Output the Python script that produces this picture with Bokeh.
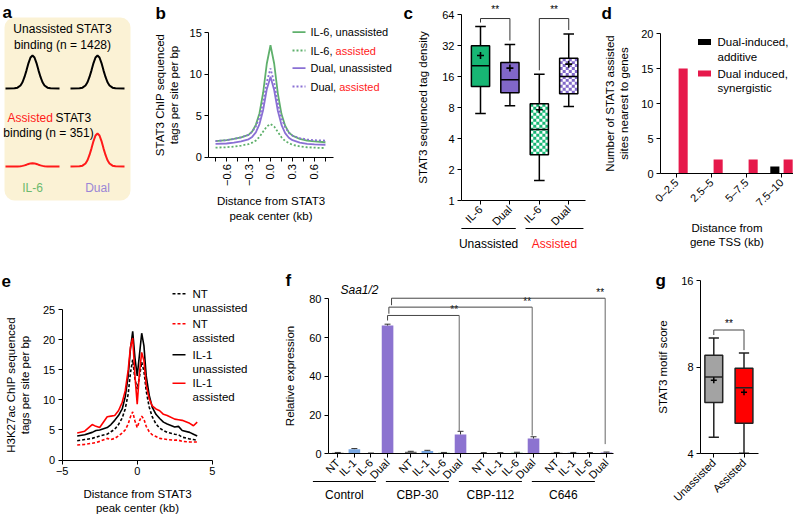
import math
from bokeh.plotting import figure
from bokeh.models import Range1d, FixedTicker, Label, Arrow, BoxAnnotation
from bokeh.layouts import row, column
from bokeh.embed import file_html
from bokeh.resources import INLINE

FONT = "Liberation Sans"
RED = "#FF1A1A"

# ------------------------------------------------------------------ data
# a (schematic)
a_conditions = ["IL-6", "Dual"]
a_unassisted_height = [1.0, 1.0]
a_assisted_height = [0.1, 1.0]
a_half_dx = [0, 2, 4, 6, 8, 10, 12, 15, 18, 27]
a_half_shape = [1.0, 0.94, 0.77, 0.55, 0.35, 0.19, 0.09, 0.025, 0.005, 0.0]

# b
b_x = [-0.75, -0.6, -0.5, -0.4, -0.3, -0.25, -0.2, -0.15, -0.1, -0.05, 0.0,
       0.05, 0.1, 0.15, 0.2, 0.25, 0.3, 0.4, 0.5, 0.6, 0.75]
b_il6_unassisted = [1.95, 2.05, 2.2, 2.4, 2.7, 3.1, 3.9, 5.3, 7.8, 11.3, 13.5,
                    11.3, 7.7, 5.2, 3.8, 3.0, 2.6, 2.2, 2.0, 1.9, 1.8]
b_il6_assisted = [1.15, 1.2, 1.28, 1.4, 1.58, 1.75, 2.0, 2.45, 3.1, 3.7, 4.0,
                  3.7, 3.05, 2.4, 1.95, 1.7, 1.5, 1.3, 1.2, 1.15, 1.1]
b_dual_unassisted = [1.6, 1.65, 1.75, 1.9, 2.15, 2.45, 3.0, 4.0, 5.7, 8.2, 9.7,
                     8.1, 5.6, 3.9, 2.9, 2.35, 2.05, 1.75, 1.6, 1.55, 1.5]
b_dual_assisted = [1.95, 2.05, 2.2, 2.4, 2.7, 3.05, 3.7, 4.8, 6.6, 9.1, 10.7,
                   9.0, 6.5, 4.7, 3.6, 2.95, 2.6, 2.3, 2.15, 2.05, 2.0]
b_ticks = [-0.6, -0.3, 0.0, 0.3, 0.6]
b_tick_labels = ["\u22120.6", "\u22120.3", "0.0", "0.3", "0.6"]
b_minor = [-0.75, -0.45, -0.15, 0.15, 0.45, 0.75]

# c
c_labels = ["IL-6", "Dual", "IL-6", "Dual"]
c_groups = ["Unassisted", "Assisted"]
c_whisker_low = [7.0, 8.3, 1.56, 8.2]
c_q1 = [12.8, 11.1, 2.78, 10.9]
c_median = [20.3, 14.9, 4.9, 16.0]
c_q3 = [31.8, 21.9, 8.7, 24.1]
c_whisker_high = [48.9, 32.7, 16.8, 41.4]
c_mean = [25.6, 19.3, 7.6, 21.1]
c_yticks = [1, 2, 4, 8, 16, 32, 64]

# d
d_bins = ["0\u20132.5", "2.5\u20135", "5\u20137.5", "7.5\u201310"]
d_additive = [0, 0, 0, 1]
d_synergistic = [15, 2, 2, 2]

# e
e_x = [-4, -3.5, -3, -2.75, -2.5, -2, -1.75, -1.5, -1.25, -1, -0.8, -0.6, -0.45,
       -0.3, -0.15, 0, 0.15, 0.3, 0.45, 0.6, 0.8, 1, 1.25, 1.5, 1.75, 2, 2.5,
       2.75, 3, 3.5, 3.75, 4]
e_il1_unassisted = [4.0, 4.2, 4.6, 4.9, 5.0, 5.4, 5.9, 6.6, 7.4, 8.5, 10.5, 14.0,
                    18.5, 21.4, 17.0, 14.0, 17.5, 21.1, 19.0, 14.0, 10.8, 8.8,
                    7.6, 6.9, 6.3, 6.0, 5.5, 5.6, 4.9, 4.6, 4.3, 4.0]
e_il1_assisted = [4.5, 4.8, 5.9, 5.6, 5.4, 7.2, 7.3, 7.4, 8.2, 9.6, 11.5, 15.0,
                  18.8, 20.3, 14.0, 9.3, 14.5, 17.9, 16.5, 12.5, 10.2, 9.0, 8.5,
                  8.2, 7.6, 7.4, 6.8, 6.7, 6.6, 6.1, 5.7, 6.3]
e_nt_unassisted = [3.2, 3.4, 3.6, 3.8, 4.0, 4.3, 4.7, 5.1, 5.9, 7.0, 8.5, 11.0,
                   14.5, 16.7, 13.5, 11.8, 13.8, 16.3, 14.8, 11.5, 8.8, 7.2, 6.0,
                   5.3, 4.9, 4.6, 4.3, 4.2, 3.8, 3.5, 3.4, 3.3]
e_nt_assisted = [2.5, 2.6, 2.8, 2.9, 3.1, 3.6, 3.4, 3.6, 4.0, 4.5, 5.0, 6.0, 7.2,
                 8.0, 6.5, 5.4, 6.5, 7.3, 6.8, 5.6, 4.7, 4.2, 3.9, 3.6, 3.5, 3.4,
                 3.3, 3.3, 3.1, 3.0, 3.0, 3.0]

# f
f_treatments = ["Control", "CBP-30", "CBP-112", "C646"]
f_conditions = ["NT", "IL-1", "IL-6", "Dual"]
f_nt = [0.5, 1.0, 0.4, 0.5]
f_il1 = [2.4, 1.5, 0.4, 0.5]
f_il6 = [0.3, 0.5, 0.6, 0.4]
f_dual = [66.2, 10.0, 7.9, 0.7]
f_nt_err = [0.2, 0.3, 0.2, 0.2]
f_il1_err = [0.3, 0.3, 0.2, 0.2]
f_il6_err = [0.1, 0.2, 0.2, 0.2]
f_dual_err = [0.7, 1.6, 0.9, 0.2]

# g
g_labels = ["Unassisted", "Assisted"]
g_whisker_low = [4.57, 4.02]
g_q1 = [6.03, 5.11]
g_median = [7.4, 6.78]
g_q3 = [8.8, 7.93]
g_whisker_high = [10.1, 8.95]
g_mean = [7.2, 6.55]
g_yticks = [4, 8, 16]


# ------------------------------------------------------------------ helpers
class Frame:
    """Whole canvas is the frame; (l, r, t, b) is where the axes box sits."""

    def __init__(self, W, H, l, r, t, b, xr, yr, ylog=False):
        self.W, self.H = W, H
        self.l, self.r, self.t, self.b = l, r, t, b
        self.xr, self.yr, self.ylog = xr, yr, ylog
        sx = (xr[1] - xr[0]) / (r - l)
        self.xf = (xr[0] - l * sx, xr[1] + (W - r) * sx)
        y0 = math.log2(yr[0]) if ylog else yr[0]
        y1 = math.log2(yr[1]) if ylog else yr[1]
        sy = (y1 - y0) / (b - t)
        self.yt = (y0 - (H - b) * sy, y1 + t * sy)
        self.yf = tuple(2 ** v for v in self.yt) if ylog else self.yt

    def X(self, px):
        return self.xf[0] + px * (self.xf[1] - self.xf[0]) / self.W

    def Y(self, py):
        v = self.yt[0] + (self.H - py) * (self.yt[1] - self.yt[0]) / self.H
        return 2 ** v if self.ylog else v

    def PY(self, y):
        v = math.log2(y) if self.ylog else y
        return self.H - (v - self.yt[0]) / (self.yt[1] - self.yt[0]) * self.H


def make(fr, ylab_standoff=6, xlab_standoff=6):
    p = figure(width=fr.W, height=fr.H, x_range=Range1d(*fr.xf), y_range=Range1d(*fr.yf),
               y_axis_type="log" if fr.ylog else "linear", output_backend="svg",
               toolbar_location=None, title=None,
               min_border_left=0, min_border_right=0, min_border_top=0,
               min_border_bottom=0)
    p.grid.visible = False
    p.outline_line_color = None
    p.xaxis.fixed_location = fr.yr[0]
    p.yaxis.fixed_location = fr.xr[0]
    p.xaxis.bounds = fr.xr
    p.yaxis.bounds = fr.yr
    for ax in p.axis:
        ax.axis_line_color = "black"
        ax.axis_line_width = 1
        ax.major_tick_line_color = "black"
        ax.major_tick_out = 4
        ax.major_tick_in = 0
        ax.minor_tick_line_color = None
        ax.major_label_text_font = FONT
        ax.major_label_text_font_size = "11px"
        ax.major_label_text_color = "black"
        ax.major_label_standoff = 3
        ax.axis_label_text_font = FONT
        ax.axis_label_text_font_size = "11.5px"
        ax.axis_label_text_font_style = "normal"
        ax.axis_label_text_color = "black"
    p.yaxis.axis_label_standoff = ylab_standoff
    p.xaxis.axis_label_standoff = xlab_standoff
    return p


def lab(p, x, y, text, size="11.5px", color="black", align="left", baseline="middle",
        style="normal"):
    p.add_layout(Label(x=x, y=y, text=text, text_font=FONT, text_font_size=size,
                       text_color=color, text_align=align, text_baseline=baseline,
                       text_font_style=style))


def seg(p, x0, y0, x1, y1, color="black", width=1.0, dash="solid"):
    p.add_layout(Arrow(x_start=x0, y_start=y0, x_end=x1, y_end=y1, end=None,
                       line_color=color, line_width=width, line_dash=dash))


def letter(p, fr, px, py, text):
    lab(p, fr.X(px), fr.Y(py), text, size="17px", baseline="alphabetic", style="bold")


# ------------------------------------------------------------------ panel a
AW, AH = 148, 258
pa = figure(width=AW, height=AH, x_range=Range1d(0, AW), y_range=Range1d(0, AH),
            x_axis_location=None, y_axis_location=None, output_backend="svg",
            toolbar_location=None, title=None, min_border_left=0, min_border_right=0,
            min_border_top=0, min_border_bottom=0)
pa.grid.visible = False
pa.outline_line_color = None


def A(fy):
    return AH - fy


pa.add_layout(BoxAnnotation(left=4, right=130, top=A(17), bottom=A(200),
                            fill_color="#FBF2D5", fill_alpha=1.0, line_color=None,
                            border_radius=10, level="underlay"))
lab(pa, 2, A(12), "a", size="17px", baseline="alphabetic", style="bold")
lab(pa, 62, A(28), "Unassisted STAT3", size="12px", align="center")
lab(pa, 62, A(44), "binding (n = 1428)", size="12px", align="center")
lab(pa, 7, A(117), "Assisted", size="12px", color=RED)
lab(pa, 55, A(117), "STAT3", size="12px")
lab(pa, 48, A(132), "binding (n = 351)", size="12px", align="center")

full_dx = [-d for d in reversed(a_half_dx[1:])] + a_half_dx
full_sh = list(reversed(a_half_shape[1:])) + a_half_shape
a_centers = [32, 97]
a_cond_colors = ["#6DBA6E", "#9A86D6"]
for i, cx in enumerate(a_centers):
    xs = [cx + d for d in full_dx]
    pa.line(xs, [A(88) + 33 * a_unassisted_height[i] * s for s in full_sh],
            line_color="black", line_width=2)
    pa.line(xs, [A(166) + 33 * a_assisted_height[i] * s for s in full_sh],
            line_color=RED, line_width=2)
    lab(pa, cx, A(187), a_conditions[i], size="12px", color=a_cond_colors[i],
        align="center")

# ------------------------------------------------------------------ panel b
fb = Frame(250, 258, 60.3, 185.3, 32.3, 156.7, (-0.842, 0.864), (0, 15))
pb = make(fb)
pb.xaxis.ticker = FixedTicker(ticks=b_ticks, minor_ticks=b_minor)
pb.xaxis.major_label_overrides = dict(zip(b_ticks, b_tick_labels))
pb.xaxis.major_label_orientation = math.pi / 2
pb.xaxis.minor_tick_line_color = "black"
pb.xaxis.minor_tick_out = 4
pb.xaxis.minor_tick_in = 0
pb.yaxis.ticker = FixedTicker(ticks=[0, 5, 10, 15])
pb.xaxis.axis_label = "Distance from STAT3\npeak center (kb)"
pb.yaxis.axis_label = "STAT3 ChIP sequenced\ntags per site per bp"
GREEN_B = "#5FB06C"
PURPLE_B = "#8A70D4"
b_series = [
    (b_il6_unassisted, GREEN_B, "solid", "IL-6, ", "unassisted"),
    (b_il6_assisted, GREEN_B, "2 2", "IL-6, ", "assisted"),
    (b_dual_unassisted, PURPLE_B, "solid", "Dual, ", "unassisted"),
    (b_dual_assisted, PURPLE_B, "2 2", "Dual, ", "assisted"),
]
for ys, col, dash, _, _ in b_series:
    pb.line(b_x, ys, line_color=col, line_width=1.8, line_dash=dash)
b_rows = [31.7, 50, 67.7, 86]
for (ys, col, dash, t1, t2), ry in zip(b_series, b_rows):
    seg(pb, fb.X(144), fb.Y(ry), fb.X(157), fb.Y(ry), color=col, width=1.8, dash=dash)
    lab(pb, fb.X(162), fb.Y(ry), t1, size="11px")
    w = 25.1 if t1.startswith("IL") else 28.7
    lab(pb, fb.X(162 + w), fb.Y(ry), t2, size="11px",
        color=RED if t2 == "assisted" else "black")
letter(pb, fb, 7, 13, "b")

# ------------------------------------------------------------------ panel c
fc = Frame(202, 258, 63, 187, 14, 200, (0.354, 4.57), (1, 64), ylog=True)
pc = make(fc, ylab_standoff=10)
pc.yaxis.ticker = FixedTicker(ticks=c_yticks)
pc.yaxis.major_label_overrides = {v: str(v) for v in c_yticks}
pc.yaxis.axis_label = "STAT3 sequenced tag density"
c_pos = [1, 2, 3, 4]
pc.xaxis.ticker = FixedTicker(ticks=c_pos)
pc.xaxis.major_label_overrides = dict(zip(c_pos, c_labels))
pc.xaxis.major_label_orientation = math.pi / 4
GREEN_C = "#17B674"
PURPLE_C = "#8167C9"
c_colors = [GREEN_C, PURPLE_C, GREEN_C, PURPLE_C]
c_checker = [False, False, True, True]
bw = 0.62
ppx = (fc.r - fc.l) / (fc.xr[1] - fc.xr[0])
ppl = (fc.b - fc.t) / (math.log2(fc.yr[1]) - math.log2(fc.yr[0]))
cl, cr, cb, ct = [], [], [], []
for i, x in enumerate(c_pos):
    pc.segment([x, x], [c_q3[i], c_q1[i]], [x, x], [c_whisker_high[i], c_whisker_low[i]],
               line_color="black", line_width=1.5)
    pc.segment([x - 0.18, x - 0.18], [c_whisker_high[i], c_whisker_low[i]],
               [x + 0.18, x + 0.18], [c_whisker_high[i], c_whisker_low[i]],
               line_color="black", line_width=1.5)
    pc.quad(left=[x - bw / 2], right=[x + bw / 2], bottom=[c_q1[i]], top=[c_q3[i]],
            fill_color=c_colors[i], line_color=None)
    if c_checker[i]:
        ncol = 6
        cw = bw / ncol
        lo, hi = math.log2(c_q1[i]), math.log2(c_q3[i])
        nrow = max(1, round((hi - lo) * ppl / (cw * ppx)))
        ch = (hi - lo) / nrow
        for r_ in range(nrow):
            for k in range(ncol):
                if (r_ + k) % 2 == 1:
                    cl.append(x - bw / 2 + k * cw)
                    cr.append(x - bw / 2 + (k + 1) * cw)
                    cb.append(2 ** (lo + r_ * ch))
                    ct.append(2 ** (lo + (r_ + 1) * ch))
pc.quad(left=cl, right=cr, bottom=cb, top=ct, fill_color="white", line_color=None)
pc.quad(left=[x - bw / 2 for x in c_pos], right=[x + bw / 2 for x in c_pos],
        bottom=c_q1, top=c_q3, fill_color=None, line_color="black", line_width=1.5)
pc.segment([x - bw / 2 for x in c_pos], c_median, [x + bw / 2 for x in c_pos], c_median,
           line_color="black", line_width=1.5)
pc.scatter(c_pos, c_mean, marker="cross", size=7, line_color="black", line_width=1.6)
gap = 2 ** (4 / ppl)
for (i, j) in [(0, 1), (2, 3)]:
    ytop = fc.Y(fc.PY(max(c_whisker_high)) - 8)
    pc.line([c_pos[i], c_pos[i], c_pos[j], c_pos[j]],
            [c_whisker_high[i] * gap, ytop, ytop, c_whisker_high[j] * gap],
            line_color="#333333", line_width=1)
    lab(pc, (c_pos[i] + c_pos[j]) / 2, fc.Y(9), "**", size="10px", align="center")
c_group_span = [(c_pos[0] - 0.65, c_pos[1] + 0.2), (c_pos[2] - 0.47, c_pos[3] + 0.5)]
for (x0, x1), name, col in zip(c_group_span, c_groups, ["black", RED]):
    seg(pc, x0, fc.Y(228), x1, fc.Y(228), width=1)
    lab(pc, (x0 + x1) / 2, fc.Y(243), name, size="12px", color=col, align="center")
letter(pc, fc, 5, 13, "c")

# ------------------------------------------------------------------ panel d
fd = Frame(193, 258, 60, 193, 33, 173, (0.543, 4.343), (0, 20))
pd = make(fd, ylab_standoff=8)
d_pos = [1, 2, 3, 4]
pd.xaxis.ticker = FixedTicker(ticks=d_pos)
pd.xaxis.major_label_overrides = dict(zip(d_pos, d_bins))
pd.xaxis.major_label_orientation = math.pi / 4
pd.yaxis.ticker = FixedTicker(ticks=[0, 5, 10, 15, 20])
pd.xaxis.axis_label = "Distance from\ngene TSS (kb)"
pd.yaxis.axis_label = "Number of STAT3 assisted\nsites nearest to genes"
CRIMSON = "#E6194B"
pd.vbar(x=[x - 0.19 for x in d_pos], top=d_additive, width=0.26, fill_color="black",
        line_color=None)
pd.vbar(x=[x + 0.19 for x in d_pos], top=d_synergistic, width=0.26, fill_color=CRIMSON,
        line_color=None)
pd.rect([fd.X(104), fd.X(104)], [fd.Y(41.5), fd.Y(73)], width=13, height=6,
        width_units="screen", height_units="screen",
        fill_color=["black", CRIMSON], line_color=None)
lab(pd, fd.X(117), fd.Y(41.7), "Dual-induced,")
lab(pd, fd.X(117), fd.Y(56), "additive")
lab(pd, fd.X(117), fd.Y(73), "Dual induced,")
lab(pd, fd.X(117), fd.Y(87), "synergistic")
letter(pd, fd, 1, 13, "d")

# ------------------------------------------------------------------ panel e
fe = Frame(270, 258, 61.7, 211.7, 51.3, 201.5, (-5, 5), (0, 25))
pe = make(fe, ylab_standoff=9, xlab_standoff=9)
pe.xaxis.ticker = FixedTicker(ticks=[-5, 0, 5])
pe.xaxis.major_label_overrides = {-5: "\u22125", 0: "0", 5: "5"}
pe.yaxis.ticker = FixedTicker(ticks=[0, 5, 10, 15, 20, 25])
pe.xaxis.axis_label = "Distance from STAT3\npeak center (kb)"
pe.yaxis.axis_label = "H3K27ac ChIP sequenced\ntags per site per bp"
RED_E = "#FF0000"
e_series = [
    (e_nt_unassisted, "black", "3 2", "NT", "unassisted"),
    (e_nt_assisted, RED_E, "3 2", "NT", "assisted"),
    (e_il1_unassisted, "black", "solid", "IL-1", "unassisted"),
    (e_il1_assisted, RED_E, "solid", "IL-1", "assisted"),
]
for ys, col, dash, _, _ in e_series:
    pe.line(e_x, ys, line_color=col, line_width=1.6, line_dash=dash)
e_rows = [35.3, 65.3, 96.3, 124.7]
for (ys, col, dash, t1, t2), ry in zip(e_series, e_rows):
    seg(pe, fe.X(172), fe.Y(ry), fe.X(185), fe.Y(ry), color=col, width=1.6, dash=dash)
    lab(pe, fe.X(192), fe.Y(ry), t1)
    lab(pe, fe.X(192), fe.Y(ry + 14), t2)
letter(pe, fe, 1, 22, "e")

# ------------------------------------------------------------------ panel f
ff = Frame(375, 258, 58, 343.3, 40.3, 195.3, (-0.56, 16.64), (0, 80))
pf = make(ff, ylab_standoff=10)
pf.yaxis.ticker = FixedTicker(ticks=[0, 20, 40, 60, 80])
pf.yaxis.axis_label = "Relative expression"
f_colors = ["#6E6E6E", "#77A6E2", "#4FAF64", "#8C73D0"]
f_vals = [f_nt, f_il1, f_il6, f_dual]
f_errs = [f_nt_err, f_il1_err, f_il6_err, f_dual_err]
ticks, tlabels = [], []
for g in range(len(f_treatments)):
    for i in range(len(f_conditions)):
        x = round(g * 4.4 + i, 2)
        ticks.append(x)
        tlabels.append(f_conditions[i])
pf.xaxis.ticker = FixedTicker(ticks=ticks)
pf.xaxis.major_label_overrides = dict(zip(ticks, tlabels))
pf.xaxis.major_label_orientation = math.pi / 4
for i in range(len(f_conditions)):
    xs = [round(g * 4.4 + i, 2) for g in range(len(f_treatments))]
    tops = f_vals[i]
    pf.vbar(x=xs, top=tops, width=0.7, fill_color=f_colors[i], line_color=None)
    hi = [t + e for t, e in zip(tops, f_errs[i])]
    pf.segment(xs, tops, xs, hi, line_color="#333333", line_width=1)
    pf.segment([x - 0.18 for x in xs], hi, [x + 0.18 for x in xs], hi,
               line_color="#333333", line_width=1)
for g, name in enumerate(f_treatments):
    x0 = g * 4.4 - 1.5
    x1 = g * 4.4 + 3 - 0.7
    seg(pf, x0, ff.Y(223), x1, ff.Y(223), width=1)
    lab(pf, (x0 + x1) / 2, ff.Y(236), name, size="12px", align="center")
lab(pf, ff.X(70), ff.Y(31), "Saa1/2", size="12px", style="italic")
f_br_top = [71.4, 75.7, 80.3]
f_br_leftx = [0.0, 0.08, 0.24]
f_br_leg = [2.6, 3.4, 3.6]
f_br_bottom = [11.8, 9.4, 5.0]
ctrl_x = 3
for k in range(3):
    tx = round((k + 1) * 4.4 + 3, 2) - 0.08
    lx = ctrl_x + f_br_leftx[k]
    yt = f_br_top[k]
    seg(pf, lx, yt - f_br_leg[k], lx, yt, color="#444444")
    seg(pf, lx, yt, tx, yt, color="#444444")
    seg(pf, tx, yt, tx, f_br_bottom[k], color="#666666")
    lab(pf, tx - 0.3, ff.Y(ff.PY(yt) - 6), "**", size="10px", align="center")
letter(pf, ff, 15, 22, "f")

# ------------------------------------------------------------------ panel g
fg = Frame(148, 258, 55, 113, 22, 195.3, (0.56, 2.48), (4, 16), ylog=True)
pg = make(fg, ylab_standoff=9)
pg.yaxis.ticker = FixedTicker(ticks=g_yticks)
pg.yaxis.major_label_overrides = {v: str(v) for v in g_yticks}
pg.yaxis.axis_label = "STAT3 motif score"
g_pos = [1, 2]
pg.xaxis.ticker = FixedTicker(ticks=g_pos)
pg.xaxis.major_label_overrides = dict(zip(g_pos, g_labels))
pg.xaxis.major_label_orientation = math.pi / 4
g_colors = ["#A3A3A3", "#FF0000"]
gw = 0.59
pg.segment(g_pos, g_q3, g_pos, g_whisker_high, line_color="#222222", line_width=1.5)
pg.segment(g_pos, g_q1, g_pos, g_whisker_low, line_color="#222222", line_width=1.5)
pg.segment([x - 0.17 for x in g_pos], g_whisker_high, [x + 0.17 for x in g_pos],
           g_whisker_high, line_color="#222222", line_width=1.5)
pg.segment([x - 0.17 for x in g_pos], g_whisker_low, [x + 0.17 for x in g_pos],
           g_whisker_low, line_color="#222222", line_width=1.5)
pg.quad(left=[x - gw / 2 for x in g_pos], right=[x + gw / 2 for x in g_pos],
        bottom=g_q1, top=g_q3, fill_color=g_colors, line_color="#222222", line_width=1.5)
pg.segment([x - gw / 2 for x in g_pos], g_median, [x + gw / 2 for x in g_pos], g_median,
           line_color="#222222", line_width=1.5)
pg.scatter(g_pos, g_mean, marker="cross", size=6, line_color="black", line_width=1.5)
g_top = fg.Y(fg.PY(max(g_whisker_high)) - 8)
g_gap = 2 ** (3 / ((fg.b - fg.t) / 2))
pg.line([1, 1, 2, 2], [g_whisker_high[0] * g_gap, g_top, g_top,
                       g_whisker_high[1] * g_gap], line_color="#444444", line_width=1)
lab(pg, 1.5, fg.Y(fg.PY(g_top) - 7), "**", size="10px", align="center")
letter(pg, fg, 10, 22, "g")

layout = column(row(pa, pb, pc, pd), row(pe, pf, pg))
open("out.html", "w").write(file_html(layout, INLINE))
